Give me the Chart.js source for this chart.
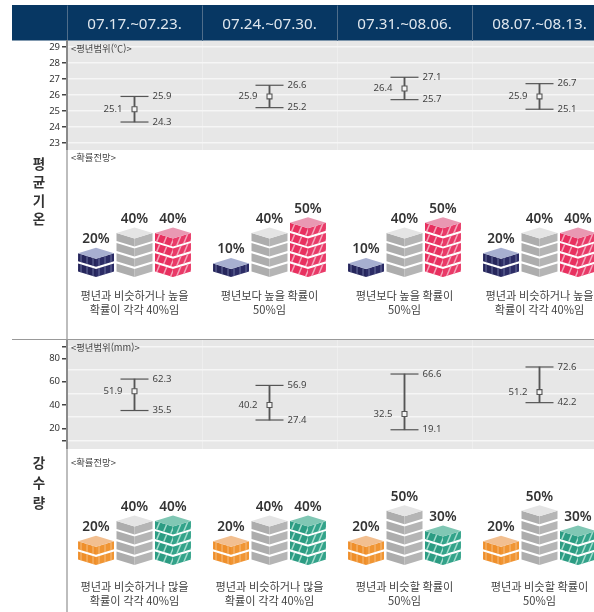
<!DOCTYPE html>
<html lang="ko">
<head>
<meta charset="utf-8">
<title>평균기온 강수량 전망</title>
<script src="https://cdn.jsdelivr.net/npm/chart.js@4"></script>
<style>
  html { margin: 0; padding: 0; background: #fff; overflow: hidden; width: 594px; height: 612px; }
  body { margin: 0; padding: 0; overflow: hidden; width: 607px; height: 612px; position: relative; font-family: "Noto Sans", "Noto Sans CJK KR", sans-serif; }
  canvas, .note, .side, .rule, .axis { position: absolute; }
  .note { left: 71px; font-size: 9.4px; line-height: 12px; color: #444; font-family: "Noto Sans CJK KR", sans-serif; }
  .side { left: 30px; width: 18px; text-align: center; font-size: 13.5px; font-weight: 700; color: #333; font-family: "Noto Sans CJK KR", sans-serif; }
  .rule { left: 12px; width: 582px; height: 1px; top: 339px; background: #999; }
  .axis { left: 66px; width: 2px; background: #bdbdbd; }
</style>
</head>
<body>
<canvas id="tempRange" style="left:0;top:5px"></canvas>
<canvas id="tempProb" style="left:0;top:150px"></canvas>
<canvas id="rainRange" style="left:0;top:340px"></canvas>
<canvas id="rainProb" style="left:0;top:449px"></canvas>
<div class="rule"></div>
<div class="axis" style="top:150px;height:189px"></div>
<div class="axis" style="top:449px;height:163px"></div>
<div class="note" style="top:42px">&lt;평년범위(℃)&gt;</div>
<div class="note" style="top:151px">&lt;확률전망&gt;</div>
<div class="note" style="top:341px">&lt;평년범위(mm)&gt;</div>
<div class="note" style="top:455.5px">&lt;확률전망&gt;</div>
<div class="side" style="top:153.5px;line-height:18.5px">평<br>균<br>기<br>온</div>
<div class="side" style="top:453px;line-height:19.8px">강<br>수<br>량</div>
<script>
const weeks = ["07.17.~07.23.", "07.24.~07.30.", "07.31.~08.06.", "08.07.~08.13."];

// normal range values
const tempMean = [25.1, 25.9, 26.4, 25.9];
const tempHigh = [25.9, 26.6, 27.1, 26.7];
const tempLow = [24.3, 25.2, 25.7, 25.1];
const rainMean = [51.9, 40.2, 32.5, 51.2];
const rainHigh = [62.3, 56.9, 66.6, 72.6];
const rainLow = [35.5, 27.4, 19.1, 42.2];

const tempTicks = [23, 24, 25, 26, 27, 28, 29];
const rainTicks = [10, 20, 30, 40, 50, 60, 70, 80, 90];
const rainLabelled = [20, 40, 60, 80];
const rainMarked = [10, 20, 40, 60, 80, 90];
const rainLines = [10, 30, 50, 70, 90];

// probabilities, below / normal / above
const tempBelow = [20, 10, 10, 20];
const tempNormal = [40, 40, 40, 40];
const tempAbove = [40, 50, 50, 40];
const rainBelow = [20, 20, 20, 20];
const rainNormal = [40, 40, 50, 50];
const rainAbove = [40, 40, 30, 30];

const tempCaptions = [
  ["평년과 비슷하거나 높을", "확률이 각각 40%임"],
  ["평년보다 높을 확률이", "50%임"],
  ["평년보다 높을 확률이", "50%임"],
  ["평년과 비슷하거나 높을", "확률이 각각 40%임"]
];
const rainCaptions = [
  ["평년과 비슷하거나 많을", "확률이 각각 40%임"],
  ["평년과 비슷하거나 많을", "확률이 각각 40%임"],
  ["평년과 비슷할 확률이", "50%임"],
  ["평년과 비슷할 확률이", "50%임"]
];

const LEFT = 67;
const WIDTH = 607; // four 135px columns, the last one runs off the page
const FONT = '"Noto Sans", "Noto Sans CJK KR", sans-serif';
const INK = "#555";

Chart.defaults.font.family = FONT;
Chart.defaults.animation = false;

function sizeCanvas(id, height) {
  const c = document.getElementById(id);
  c.width = WIDTH;
  c.height = height;
  c.style.width = WIDTH + "px";
  c.style.height = height + "px";
  return c;
}

// grey panel + navy header behind the range charts
const panelBg = {
  id: "panelBg",
  beforeDraw(chart) {
    const { ctx, chartArea: a } = chart;
    ctx.save();
    ctx.fillStyle = "#e7e7e7";
    ctx.fillRect(a.left, a.top, a.right - a.left, a.bottom - a.top);
    if (chart.options.plugins.panelBg.header) {
      ctx.fillStyle = "#073763";
      ctx.fillRect(12, 0, WIDTH, a.top);
    }
    ctx.restore();
  }
};

// value labels next to the whiskers
const rangeLabels = {
  id: "rangeLabels",
  afterDatasetsDraw(chart) {
    const { ctx, scales: { x, y } } = chart;
    const { mean, high, low } = chart.options.plugins.rangeLabels;
    ctx.save();
    ctx.font = "9.6px " + FONT;
    ctx.fillStyle = "#444";
    ctx.textBaseline = "middle";
    mean.forEach((m, i) => {
      const cx = x.getPixelForValue(i);
      ctx.textAlign = "right";
      ctx.fillText(m.toFixed(1), cx - 12, y.getPixelForValue(m));
      ctx.textAlign = "left";
      ctx.fillText(high[i].toFixed(1), cx + 18, y.getPixelForValue(high[i]));
      ctx.fillText(low[i].toFixed(1), cx + 18, y.getPixelForValue(low[i]));
    });
    ctx.restore();
  }
};

function rangeChart(id, height, opts) {
  const { mean, high, low, ticks, min, max, header } = opts;
  const whisker = (data) => ({
    type: "line", data, showLine: false, pointStyle: "line",
    pointRadius: 14, pointBorderColor: INK, pointBorderWidth: 1.2, clip: false
  });
  new Chart(sizeCanvas(id, height), {
    data: {
      labels: weeks,
      datasets: [
        { type: "line", data: mean, showLine: false, pointStyle: "rect", pointRadius: 3.5,
          pointBackgroundColor: "#f4f4f4", pointBorderColor: INK, pointBorderWidth: 1.1, order: 0 },
        whisker(high),
        whisker(low),
        { type: "bar", data: low.map((v, i) => [v, high[i]]), backgroundColor: INK, barThickness: 1.2, order: 3 }
      ]
    },
    options: {
      responsive: false,
      maintainAspectRatio: false,
      devicePixelRatio: 1,
      layout: { padding: 0, autoPadding: false },
      plugins: {
        legend: { display: false }, tooltip: { enabled: false },
        panelBg: { header }, rangeLabels: { mean, high, low }
      },
      scales: {
        x: {
          position: "top", offset: true,
          grid: { offset: true, color: "#eeeeee", tickColor: "#4f6d8a", lineWidth: 1,
                  drawTicks: !!header, tickLength: header ? 35 : 0 },
          border: { display: false },
          ticks: {
            display: !!header, color: "#dfe7ee", font: { size: 15.2 }, padding: -28.5,
            autoSkip: false, maxRotation: 0
          },
          afterFit(s) { s.height = header ? 35.5 : 0; s.paddingLeft = s.paddingRight = 0; }
        },
        y: {
          min, max,
          afterBuildTicks(s) { s.ticks = ticks.map(value => ({ value })); },
          afterFit(s) { s.width = LEFT; s.paddingTop = s.paddingBottom = 0; },
          border: { color: "#8a8a8a", width: 2 },
          grid: {
            lineWidth: 1.5, tickLength: 5,
            color: c => (opts.lines.includes(c.tick.value) ? "#f6f6f6" : "transparent"),
            tickColor: c => (opts.marked.includes(c.tick.value) ? "#444" : "transparent")
          },
          ticks: {
            autoSkip: false, padding: 2, color: "#333", font: { size: 9.5 },
            callback: v => (opts.labelled.includes(v) ? String(v) : "")
          }
        }
      }
    },
    plugins: [panelBg, rangeLabels]
  });
}

// isometric block stacks drawn on the bar elements, one layer per 10%
const BLOCK_TOP = 11;
const BLOCK_GAP = 2.2;
const blocks = {
  id: "blocks",
  afterDatasetsDraw(chart) {
    const ctx = chart.ctx;
    chart.data.datasets.forEach((ds, di) => {
      chart.getDatasetMeta(di).data.forEach((bar, i) => {
        const layers = Math.round(ds.data[i] / 10);
        const step = (bar.base - bar.y) / layers;
        for (let k = 0; k < layers; k++) {
          drawLayer(ctx, bar.x, bar.base - k * step, bar.width / 2, step - BLOCK_GAP, ds.look);
        }
        drawTop(ctx, bar.x, bar.y + BLOCK_GAP, bar.width / 2, ds.look);
        ctx.save();
        ctx.font = "600 13.6px " + FONT;
        ctx.fillStyle = "#333";
        ctx.textAlign = "center";
        ctx.textBaseline = "middle";
        ctx.fillText(ds.data[i] + "%", bar.x, bar.y + BLOCK_GAP - BLOCK_TOP - 8.5);
        ctx.restore();
      });
    });
  }
};

function drawTop(ctx, cx, by, hw, look) {
  ctx.save();
  ctx.fillStyle = look.top;
  ctx.beginPath();
  ctx.moveTo(cx, by);
  ctx.lineTo(cx - hw, by - BLOCK_TOP / 2);
  ctx.lineTo(cx, by - BLOCK_TOP);
  ctx.lineTo(cx + hw, by - BLOCK_TOP / 2);
  ctx.closePath();
  ctx.fill();
  ctx.restore();
}

function drawLayer(ctx, cx, by, hw, h, look) {
  const v = BLOCK_TOP / 2;
  const face = (sx, color) => {
    ctx.save();
    ctx.fillStyle = color;
    ctx.beginPath();
    ctx.moveTo(cx, by);
    ctx.lineTo(cx + sx * hw, by - v);
    ctx.lineTo(cx + sx * hw, by - v - h);
    ctx.lineTo(cx, by - h);
    ctx.closePath();
    ctx.fill();
    ctx.clip();
    if (look.stripe) {
      ctx.strokeStyle = look.stripe;
      ctx.lineWidth = look.stripeWidth;
      for (let t = 3; t < hw + h; t += look.stripeGap) {
        const x = cx + sx * t;
        const y = by - (v * t) / hw;
        ctx.beginPath();
        ctx.moveTo(x, y + 2);
        ctx.lineTo(x + look.slant, y - h - 2);
        ctx.stroke();
      }
    }
    ctx.restore();
  };
  face(-1, look.left);
  face(1, look.right);
}

const navyLook = { top: "#a7afd0", left: "#26265c", right: "#2c2c66", stripe: "#7f86b0", stripeWidth: 0.8, stripeGap: 6, slant: 0 };
const greyLook = { top: "#e4e4e4", left: "#adadad", right: "#b5b5b5" };
const pinkLook = { top: "#e998b2", left: "#e8305f", right: "#e93a68", stripe: "#f3a5bb", stripeWidth: 1.5, stripeGap: 7, slant: 5 };
const orangeLook = { top: "#f2bf90", left: "#ef8f2b", right: "#f09533", stripe: "#f7c995", stripeWidth: 0.8, stripeGap: 6, slant: 0 };
const greenLook = { top: "#80c7b4", left: "#2c9c83", right: "#33a38a", stripe: "#a5dccd", stripeWidth: 1.5, stripeGap: 7, slant: 5 };

function probChart(id, height, opts) {
  const { captions, series, looks, min, max, axisHeight, captionPad } = opts;
  new Chart(sizeCanvas(id, height), {
    type: "bar",
    data: {
      labels: captions,
      datasets: series.map((data, i) => ({ data, look: looks[i], backgroundColor: "transparent" }))
    },
    options: {
      responsive: false,
      maintainAspectRatio: false,
      devicePixelRatio: 1,
      categoryPercentage: 0.855,
      barPercentage: 0.935,
      layout: { padding: 0, autoPadding: false },
      plugins: { legend: { display: false }, tooltip: { enabled: false } },
      scales: {
        x: {
          grid: { display: false, drawTicks: false },
          border: { display: false },
          ticks: {
            autoSkip: false, maxRotation: 0, padding: captionPad, color: "#444",
            font: { size: 11.2, family: '"Noto Sans CJK KR", sans-serif', lineHeight: 1.22 }
          },
          afterFit(s) { s.height = axisHeight; s.paddingLeft = s.paddingRight = 0; }
        },
        y: {
          min, max,
          grid: { display: false, drawTicks: false },
          border: { display: false },
          ticks: { display: false },
          afterFit(s) { s.width = LEFT; s.paddingTop = s.paddingBottom = 0; }
        }
      }
    },
    plugins: [blocks]
  });
}

rangeChart("tempRange", 145, {
  mean: tempMean, high: tempHigh, low: tempLow, ticks: tempTicks,
  lines: tempTicks, marked: tempTicks, labelled: tempTicks,
  min: 22.55, max: 29.4, header: true
});
rangeChart("rainRange", 109, {
  mean: rainMean, high: rainHigh, low: rainLow, ticks: rainTicks,
  lines: rainLines, marked: rainMarked, labelled: rainLabelled,
  min: 2.7, max: 95.6, header: false
});
probChart("tempProb", 188, {
  captions: tempCaptions, series: [tempBelow, tempNormal, tempAbove],
  looks: [navyLook, greyLook, pinkLook], min: -10.8, max: 124.5, axisHeight: 50, captionPad: 1
});
probChart("rainProb", 163, {
  captions: rainCaptions, series: [rainBelow, rainNormal, rainAbove],
  looks: [orangeLook, greyLook, greenLook], min: -10.8, max: 113.7, axisHeight: 36, captionPad: 4
});
</script>
</body>
</html>
